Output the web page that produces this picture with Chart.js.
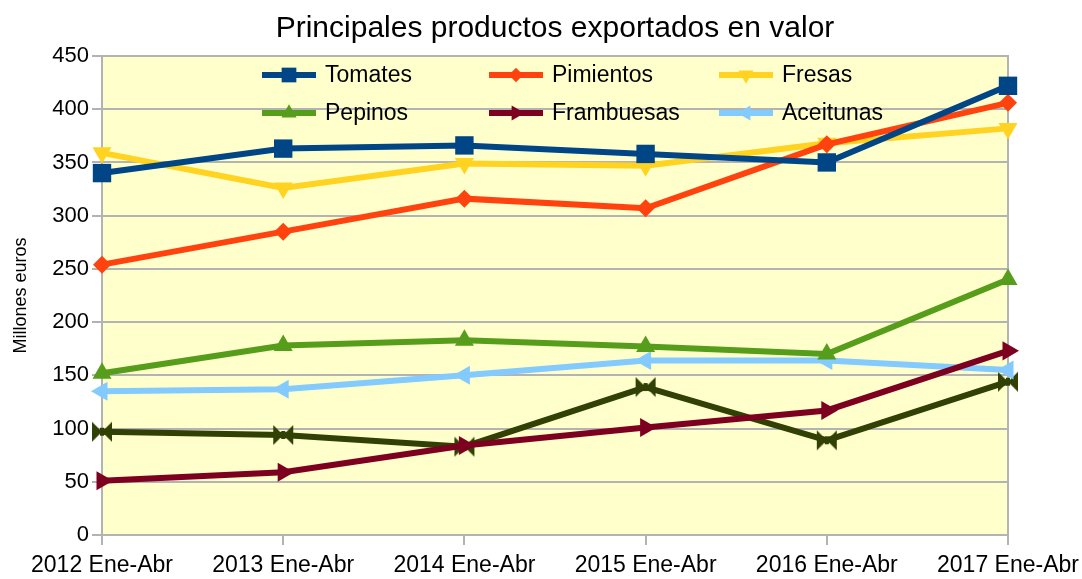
<!DOCTYPE html>
<html>
<head>
<meta charset="utf-8">
<script src="https://cdn.jsdelivr.net/npm/chart.js@4/dist/chart.umd.min.js"></script>
<style>
  html, body { margin: 0; padding: 0; background: #fff; }
  #wrap { width: 1082px; height: 579px; }
</style>
</head>
<body>
<div id="wrap"><canvas id="chart"></canvas></div>
<script>
const categories = ["2012 Ene-Abr", "2013 Ene-Abr", "2014 Ene-Abr", "2015 Ene-Abr", "2016 Ene-Abr", "2017 Ene-Abr"];
const tomates = [340, 363, 366, 358, 350, 422];
const pimientos = [254, 285, 316, 307, 367, 406];
const fresas = [359, 326, 349, 347, 368, 382];
const pepinos = [152, 178, 183, 177, 170, 240];
const frambuesas = [51, 59, 84, 101, 117, 173];
const aceitunas = [135, 137, 150, 164, 164, 155];
const serie7 = [97, 94, 83, 139, 89, 144];
const yTicks = [0, 50, 100, 150, 200, 250, 300, 350, 400, 450];
const chartTitle = "Principales productos exportados en valor";

const FONT = "'Liberation Sans', Arial, sans-serif";
const GRID = "#b3b3b3";

function bowtie(color) {
  const c = document.createElement("canvas");
  c.width = 22; c.height = 22;
  const g = c.getContext("2d");
  g.fillStyle = color;
  g.beginPath();
  g.moveTo(1, 1); g.lineTo(11, 11); g.lineTo(1, 21); g.closePath();
  g.moveTo(21, 1); g.lineTo(11, 11); g.lineTo(21, 21); g.closePath();
  g.fill();
  g.fillRect(9, 7, 4, 8);
  return c;
}

function ds(label, data, color, style, radius, rotation, inLegend) {
  return {
    label, data,
    borderColor: color, backgroundColor: color,
    pointBackgroundColor: color, pointBorderColor: color,
    borderWidth: 6, pointStyle: style, pointRadius: radius, pointHoverRadius: radius,
    pointRotation: rotation, pointBorderWidth: 0, tension: 0,
    inLegend
  };
}

const datasets = [
  ds("Tomates", tomates, "#004586", "rect", 13, 0, true),
  ds("Pimientos", pimientos, "#ff420e", "rectRot", 9, 0, true),
  ds("Fresas", fresas, "#ffd320", "triangle", 11, 180, true),
  ds("Pepinos", pepinos, "#579d1c", "triangle", 11, 0, true),
  ds("Frambuesas", frambuesas, "#7e0021", "triangle", 11, 90, true),
  ds("Aceitunas", aceitunas, "#83caff", "triangle", 11, 270, true),
  ds("Serie 7", serie7, "#314004", bowtie("#314004"), 11, 0, false),
];
// first dataset drawn on top
datasets.forEach((d, i) => { d.order = i; });

const plotBg = {
  id: "plotBg",
  beforeDraw(chart) {
    const a = chart.chartArea, ctx = chart.ctx;
    ctx.save();
    ctx.fillStyle = "#ffffcc";
    ctx.fillRect(a.left, a.top, a.right - a.left, a.bottom - a.top);
    // title, centred over the plot
    ctx.fillStyle = "#000";
    ctx.font = "30px " + FONT;
    ctx.textAlign = "center";
    ctx.textBaseline = "middle";
    ctx.fillText(chartTitle, (a.left + a.right) / 2, 29);
    ctx.restore();
  },
  beforeDatasetsDraw(chart) {
    const a = chart.chartArea, ctx = chart.ctx;
    ctx.save();
    ctx.strokeStyle = GRID;
    ctx.lineWidth = 2;
    ctx.strokeRect(a.left, a.top, a.right - a.left, a.bottom - a.top);
    ctx.restore();
  }
};

const floatLegend = {
  id: "floatLegend",
  beforeDatasetsDraw(chart) {
    const ctx = chart.ctx;
    const cols = [262, 489, 719];
    const rows = [75, 113];
    const items = chart.data.datasets.filter(d => d.inLegend);
    ctx.save();
    items.forEach((d, i) => {
      const x = cols[i % 3], y = rows[Math.floor(i / 3)];
      ctx.strokeStyle = d.borderColor;
      ctx.lineWidth = 6;
      ctx.beginPath();
      ctx.moveTo(x, y); ctx.lineTo(x + 54, y);
      ctx.stroke();
      ctx.fillStyle = d.borderColor;
      ctx.beginPath();
      Chart.helpers.drawPoint(ctx, { pointStyle: d.pointStyle, rotation: d.pointRotation, radius: d.pointRadius * 0.8, borderWidth: 0 }, x + 27, y);
      ctx.fillStyle = "#000";
      ctx.font = "23px " + FONT;
      ctx.textBaseline = "middle";
      ctx.textAlign = "left";
      ctx.fillText(d.label, x + 63, y + 1);
    });
    ctx.restore();
  }
};

new Chart(document.getElementById("chart"), {
  type: "line",
  data: { labels: categories, datasets },
  plugins: [plotBg, floatLegend],
  options: {
    responsive: true,
    maintainAspectRatio: false,
    animation: false,
    layout: { padding: { left: 0, right: 74, top: 56, bottom: 0 } },
    plugins: {
      legend: { display: false },
      tooltip: { enabled: false },
      title: { display: false }
    },
    scales: {
      x: {
        offset: false,
        grid: { drawOnChartArea: false, color: GRID, lineWidth: 2, tickLength: 10 },
        border: { color: GRID, width: 2 },
        ticks: { color: "#000", font: { family: FONT, size: 23 }, maxRotation: 0, autoSkip: false, padding: 7 },
        afterFit(s) { s.height = 44; s.paddingLeft = 0; s.paddingRight = 0; }
      },
      y: {
        min: 0, max: 450,
        afterBuildTicks(s) { s.ticks = yTicks.map(v => ({ value: v })); },
        grid: { color: GRID, lineWidth: 2, tickLength: 10 },
        border: { color: GRID, width: 2 },
        ticks: { color: "#000", font: { family: FONT, size: 22 }, padding: 3 },
        title: { display: true, text: "Millones euros", color: "#000", font: { family: FONT, size: 18 }, padding: { top: 10, bottom: 6 } },
        afterFit(s) { s.width = 102; }
      }
    }
  }
});
</script>
</body>
</html>
